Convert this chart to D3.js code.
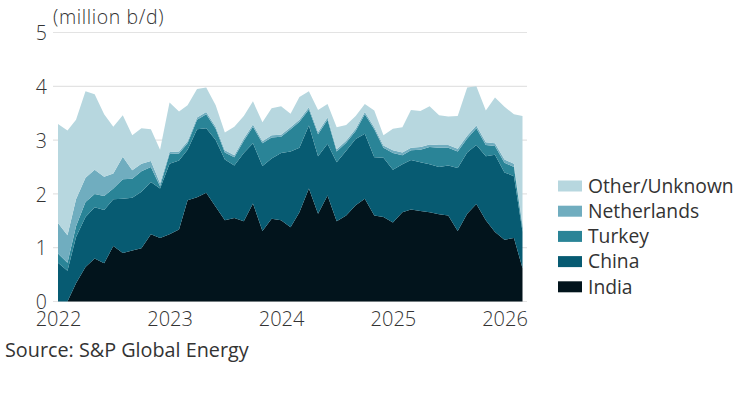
<!DOCTYPE html>
<html><head><meta charset="utf-8">
<script src="https://cdn.jsdelivr.net/npm/d3@7"></script>
<style>body{margin:0;background:#fff;}svg{display:block;font-family:"Open Sans",sans-serif;}</style>
</head><body><svg id="c" width="750" height="395"></svg>
<script>
const startMonth = "2022-01";
const india  = [0,0,0.34,0.64,0.80,0.71,1.03,0.90,0.95,0.99,1.25,1.18,1.25,1.34,1.88,1.94,2.02,1.76,1.51,1.55,1.49,1.82,1.31,1.54,1.51,1.38,1.66,2.10,1.63,1.97,1.49,1.60,1.79,1.91,1.60,1.57,1.47,1.66,1.71,1.68,1.66,1.62,1.60,1.31,1.63,1.81,1.51,1.29,1.15,1.18,0.62];
const china  = [0.72,0.57,0.86,0.93,0.95,0.99,0.87,1.01,0.98,1.05,0.97,0.92,1.31,1.28,0.94,1.26,1.20,1.24,1.13,0.98,1.27,1.12,1.21,1.12,1.25,1.41,1.20,1.17,1.07,0.96,1.10,1.20,1.23,1.21,1.08,1.10,0.98,0.89,0.92,0.91,0.89,0.88,0.93,1.17,1.14,1.10,1.19,1.44,1.25,1.15,0.68];
const turkey = [0.17,0.15,0.20,0.28,0.25,0.26,0.20,0.36,0.35,0.38,0.28,0.04,0.18,0.13,0.12,0.18,0.26,0.21,0.13,0.15,0.23,0.31,0.42,0.39,0.30,0.41,0.48,0.30,0.41,0.45,0.20,0.15,0.15,0.36,0.52,0.19,0.31,0.17,0.18,0.23,0.32,0.36,0.33,0.31,0.26,0.31,0.21,0.16,0.18,0.17,0.07];
const netherlands = [0.57,0.51,0.50,0.45,0.45,0.36,0.28,0.42,0.16,0.14,0.11,0.06,0.04,0.04,0.04,0.04,0.04,0.04,0.04,0.04,0.04,0.04,0.04,0.04,0.04,0.04,0.04,0.04,0.04,0.04,0.04,0.04,0.04,0.04,0.04,0.04,0.05,0.05,0.05,0.05,0.05,0.05,0.05,0.05,0.05,0.05,0.05,0.05,0.06,0.06,0.05];
const other  = [1.84,1.95,1.48,1.61,1.40,1.16,0.87,0.77,0.65,0.66,0.59,0.62,0.92,0.74,0.67,0.53,0.46,0.40,0.33,0.53,0.42,0.43,0.35,0.50,0.53,0.25,0.42,0.30,0.41,0.25,0.41,0.29,0.24,0.15,0.31,0.19,0.40,0.47,0.70,0.67,0.71,0.55,0.53,0.61,0.90,0.73,0.59,0.85,0.98,0.92,2.03];
const seriesNames = ["India","China","Turkey","Netherlands","Other/Unknown"];
const colors = ["#02141c","#075b72","#2a8497","#70adbf","#b7d7df"];
const yTicks = [0,1,2,3,4,5];
const xTickYears = ["2022","2023","2024","2025","2026"];
const unitLabel = "(million b/d)";
const sourceLabel = "Source: S&P Global Energy";

const svg = d3.select("#c");
const t0 = d3.timeParse("%Y-%m")(startMonth);
const rows = india.map((v,i)=>({date:d3.timeMonth.offset(t0,i),India:v,China:china[i],Turkey:turkey[i],Netherlands:netherlands[i],"Other/Unknown":other[i]}));

const x = d3.scaleTime().domain([rows[0].date, rows[rows.length-1].date]).range([58,522.5]);
const y = d3.scaleLinear().domain([0,5]).range([301.5,32.5]);

// grid
svg.append("g").selectAll("line").data(yTicks).join("line")
  .attr("x1",53).attr("x2",527).attr("y1",d=>y(d)).attr("y2",d=>y(d))
  .attr("stroke","#e3e3e3").attr("stroke-width",1.2);

const stack = d3.stack().keys(seriesNames)(rows);
const area = d3.area().x(d=>x(d.data.date)).y0(d=>y(d[0])).y1(d=>y(d[1]));
svg.append("g").selectAll("path").data(stack).join("path")
  .attr("d",area).attr("fill",(d,i)=>colors[i]);

// y axis
const yAxis = d3.axisLeft(y).tickValues(yTicks).tickSize(0).tickPadding(0).tickFormat(d3.format("d"));
const gy = svg.append("g").attr("transform","translate(47,1)").call(yAxis);
gy.select(".domain").remove();
gy.selectAll("text").attr("font-size",19.5).attr("fill","#333").attr("font-family","Open Sans, sans-serif").attr("font-weight",300);

// x axis
const xAxis = d3.axisBottom(x).tickValues(xTickYears.map(s=>d3.timeParse("%Y")(s))).tickSize(0).tickPadding(0).tickFormat(d3.timeFormat("%Y"));
const gx = svg.append("g").attr("transform","translate(0,312)").call(xAxis);
gx.select(".domain").remove();
gx.selectAll("text").attr("font-size",20).attr("fill","#333").attr("font-family","Open Sans, sans-serif").attr("font-weight",300);

svg.append("text").attr("x",53).attr("y",24).attr("font-size",19.5).attr("letter-spacing",0.6).attr("fill","#333").attr("font-weight",300).text(unitLabel);
svg.append("text").attr("x",5).attr("y",357).attr("font-size",19.8).attr("fill","#333").text(sourceLabel);

// legend (reverse order)
const leg = svg.append("g");
const legItems = seriesNames.map((n,i)=>({n,c:colors[i]})).reverse();
const lg = leg.selectAll("g").data(legItems).join("g").attr("transform",(d,i)=>`translate(558,${186+i*25.2})`);
lg.append("rect").attr("x",0).attr("y",-5.5).attr("width",24).attr("height",11).attr("fill",d=>d.c);
lg.append("text").attr("x",30).attr("y",0).attr("dy","0.35em").attr("font-size",19.3).attr("fill","#333").text(d=>d.n);
</script></body></html>
